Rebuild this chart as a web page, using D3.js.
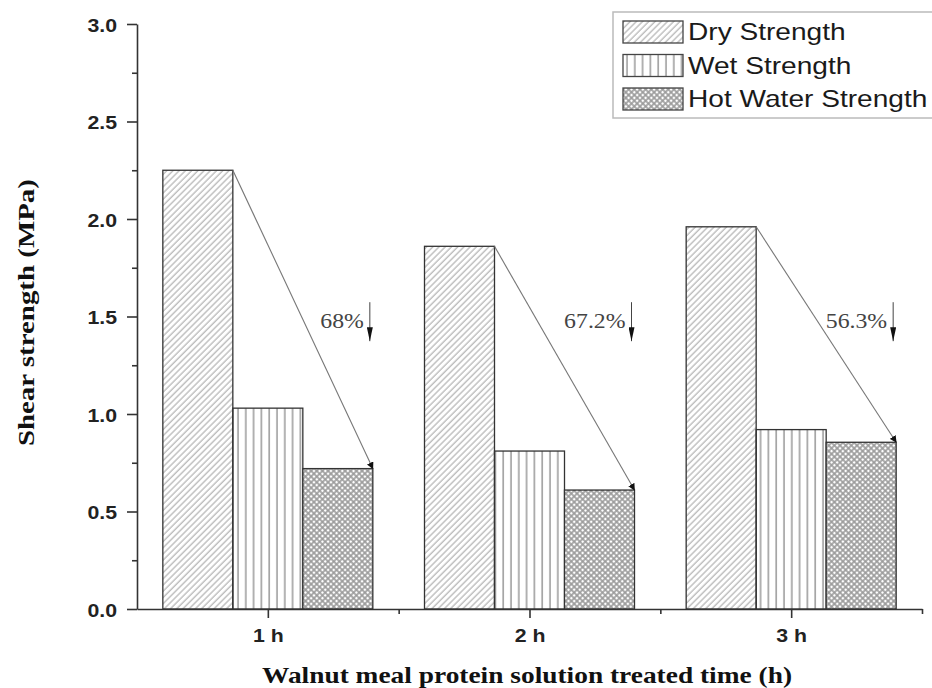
<!DOCTYPE html>
<html>
<head>
<meta charset="utf-8">
<script src="https://cdn.jsdelivr.net/npm/d3@7"></script>
<style>
  body { margin: 0; background: #fff; }
  svg { display: block; }
</style>
</head>
<body>
<div id="chart"></div>
<script>
// data
var times = [1, 2, 3];
var timeLabels = ["1 h", "2 h", "3 h"];
var series = ["Dry Strength", "Wet Strength", "Hot Water Strength"];
var dryValues = [2.25, 1.86, 1.96];
var wetValues = [1.03, 0.81, 0.92];
var hotValues = [0.72, 0.61, 0.855];
var dropLabels = ["68%", "67.2%", "56.3%"];
var yTicks = [0, 0.5, 1.0, 1.5, 2.0, 2.5, 3.0];
var yMinor = [0.25, 0.75, 1.25, 1.75, 2.25, 2.75];
var xMinor = [1.5, 2.5, 3.5];

var width = 932, height = 688;
var K = 1.17; // picture is a bit wider than tall, text follows

var svg = d3.select("#chart").append("svg")
  .attr("width", width)
  .attr("height", height);

var x = d3.scaleLinear().domain([0.5, 3.5]).range([137, 922]);
var y = d3.scaleLinear().domain([0, 3]).range([609, 24]);
var inner = d3.scaleBand().domain(series).range([-105, 105]);

function stretch(sel, k) {
  sel.each(function() {
    var w = this.getComputedTextLength();
    d3.select(this).attr("textLength", w * k).attr("lengthAdjust", "spacingAndGlyphs");
  });
}

// patterns
var defs = svg.append("defs");
defs.append("pattern")
  .attr("id", "p-dry")
  .attr("patternUnits", "userSpaceOnUse")
  .attr("width", 4.4).attr("height", 4.4)
  .attr("patternTransform", "rotate(45)")
  .append("line")
  .attr("x1", 1).attr("y1", 0).attr("x2", 1).attr("y2", 4.4)
  .attr("stroke", "#aaa").attr("stroke-width", 1.1);

defs.append("pattern")
  .attr("id", "p-wet")
  .attr("patternUnits", "userSpaceOnUse")
  .attr("width", 7.8).attr("height", 10)
  .append("line")
  .attr("x1", 4).attr("y1", 0).attr("x2", 4).attr("y2", 10)
  .attr("stroke", "#888").attr("stroke-width", 1.3);

var ph = defs.append("pattern")
  .attr("id", "p-hot")
  .attr("patternUnits", "userSpaceOnUse")
  .attr("width", 4).attr("height", 4)
  .attr("patternTransform", "rotate(45)");
ph.append("rect").attr("width", 4).attr("height", 4).attr("fill", "#fff");
ph.append("line").attr("x1", 0).attr("y1", 1).attr("x2", 4).attr("y2", 1)
  .attr("stroke", "#999").attr("stroke-width", 1.6);
ph.append("line").attr("x1", 1).attr("y1", 0).attr("x2", 1).attr("y2", 4)
  .attr("stroke", "#999").attr("stroke-width", 1.6);

var fills = { "Dry Strength": "url(#p-dry)", "Wet Strength": "url(#p-wet)", "Hot Water Strength": "url(#p-hot)" };

defs.append("marker")
  .attr("id", "head")
  .attr("viewBox", "0 0 10 10")
  .attr("refX", 9).attr("refY", 5)
  .attr("markerWidth", 7).attr("markerHeight", 7)
  .attr("markerUnits", "userSpaceOnUse")
  .attr("orient", "auto")
  .append("path").attr("d", "M0,0L10,5L0,10Z").attr("fill", "#111");

defs.append("marker")
  .attr("id", "down")
  .attr("viewBox", "0 0 10 10")
  .attr("refX", 10).attr("refY", 5)
  .attr("markerWidth", 14).attr("markerHeight", 6)
  .attr("markerUnits", "userSpaceOnUse")
  .attr("orient", "auto")
  .attr("preserveAspectRatio", "none")
  .append("path").attr("d", "M0,0L10,5L0,10Z").attr("fill", "#111");

// table for bars
var rows = [];
times.forEach(function(t, i) {
  rows.push({ t: t, s: series[0], v: dryValues[i] });
  rows.push({ t: t, s: series[1], v: wetValues[i] });
  rows.push({ t: t, s: series[2], v: hotValues[i] });
});

svg.selectAll("rect.bar")
  .data(rows).enter()
  .append("rect")
  .attr("class", "bar")
  .attr("x", function(d) { return x(d.t) + inner(d.s); })
  .attr("y", function(d) { return y(d.v); })
  .attr("width", inner.bandwidth())
  .attr("height", function(d) { return y(0) - y(d.v); })
  .attr("fill", function(d) { return fills[d.s]; })
  .attr("stroke", "#333")
  .attr("stroke-width", 1.3);

// axes
var yAxis = svg.append("g")
  .attr("transform", "translate(" + x(0.5) + ",0)")
  .call(d3.axisLeft(y).tickValues(yTicks).tickFormat(d3.format(".1f"))
    .tickSize(10).tickPadding(10).tickSizeOuter(0));
svg.append("g")
  .attr("transform", "translate(" + x(0.5) + ",0)")
  .call(d3.axisLeft(y).tickValues(yMinor).tickFormat("").tickSize(5).tickSizeOuter(0))
  .select(".domain").remove();

var xAxis = svg.append("g")
  .attr("transform", "translate(0," + y(0) + ")")
  .call(d3.axisBottom(x).tickValues(times)
    .tickFormat(function(d, i) { return timeLabels[i]; })
    .tickSize(9).tickPadding(11).tickSizeOuter(0));
svg.append("g")
  .attr("transform", "translate(0," + y(0) + ")")
  .call(d3.axisBottom(x).tickValues(xMinor).tickFormat("").tickSize(5).tickSizeOuter(0))
  .select(".domain").remove();

svg.selectAll(".domain, .tick line")
  .attr("stroke", "#333")
  .attr("stroke-width", 1.6);

svg.selectAll(".tick text")
  .attr("font-family", "'Liberation Sans', Arial, sans-serif")
  .attr("font-weight", "bold")
  .attr("font-size", 19)
  .attr("fill", "#222");
yAxis.selectAll(".tick text").attr("dy", "0.38em");
stretch(svg.selectAll(".tick text"), 1.12);

// axis titles
svg.append("text")
  .attr("x", 527).attr("y", 683)
  .attr("text-anchor", "middle")
  .attr("font-family", "'Liberation Serif', 'Times New Roman', serif")
  .attr("font-weight", "bold")
  .attr("font-size", 23)
  .attr("fill", "#111")
  .attr("textLength", 530)
  .attr("lengthAdjust", "spacingAndGlyphs")
  .text("Walnut meal protein solution treated time (h)");

svg.append("text")
  .attr("transform", "translate(34," + y(1.52) + ") rotate(-90)")
  .attr("text-anchor", "middle")
  .attr("font-family", "'Liberation Serif', 'Times New Roman', serif")
  .attr("font-weight", "bold")
  .attr("font-size", 24)
  .attr("fill", "#111")
  .attr("textLength", 267)
  .attr("lengthAdjust", "spacingAndGlyphs")
  .text("Shear strength (MPa)");

// drop annotations
times.forEach(function(t, i) {
  var x0 = x(t) + inner(series[0]) + inner.bandwidth();
  var x1 = x(t) + inner(series[2]) + inner.bandwidth();
  svg.append("line")
    .attr("x1", x0).attr("y1", y(dryValues[i]))
    .attr("x2", x1).attr("y2", y(hotValues[i]))
    .attr("stroke", "#777")
    .attr("stroke-width", 1.1)
    .attr("marker-end", "url(#head)");

  var ax = x1 - 3;
  var base = y(1.44);
  svg.append("line")
    .attr("x1", ax).attr("y1", base - 26)
    .attr("x2", ax).attr("y2", base + 13)
    .attr("stroke", "#444")
    .attr("stroke-width", 1)
    .attr("marker-end", "url(#down)");

  var lab = svg.append("text")
    .attr("x", ax - 6).attr("y", base)
    .attr("text-anchor", "end")
    .attr("font-family", "'Liberation Serif', 'Times New Roman', serif")
    .attr("font-size", 22)
    .attr("fill", "#444")
    .text(dropLabels[i]);
  stretch(lab, 1.08);
});

// legend
var legend = svg.append("g");
legend.append("rect")
  .attr("x", 613).attr("y", 12)
  .attr("width", 330).attr("height", 106)
  .attr("fill", "#fff")
  .attr("stroke", "#bbb")
  .attr("stroke-width", 1.5);

var li = legend.selectAll("g.item")
  .data(series).enter()
  .append("g")
  .attr("class", "item")
  .attr("transform", function(d, i) { return "translate(623," + (21 + i * 33.5) + ")"; });
li.append("rect")
  .attr("width", 60).attr("height", 22)
  .attr("fill", function(d) { return fills[d]; })
  .attr("stroke", "#444")
  .attr("stroke-width", 1.3);
var lt = li.append("text")
  .attr("x", 65).attr("y", 19)
  .attr("font-family", "'Liberation Sans', Arial, sans-serif")
  .attr("font-size", 24)
  .attr("fill", "#1a1a1a")
  .text(function(d) { return d; });
stretch(lt, K);
</script>
</body>
</html>
